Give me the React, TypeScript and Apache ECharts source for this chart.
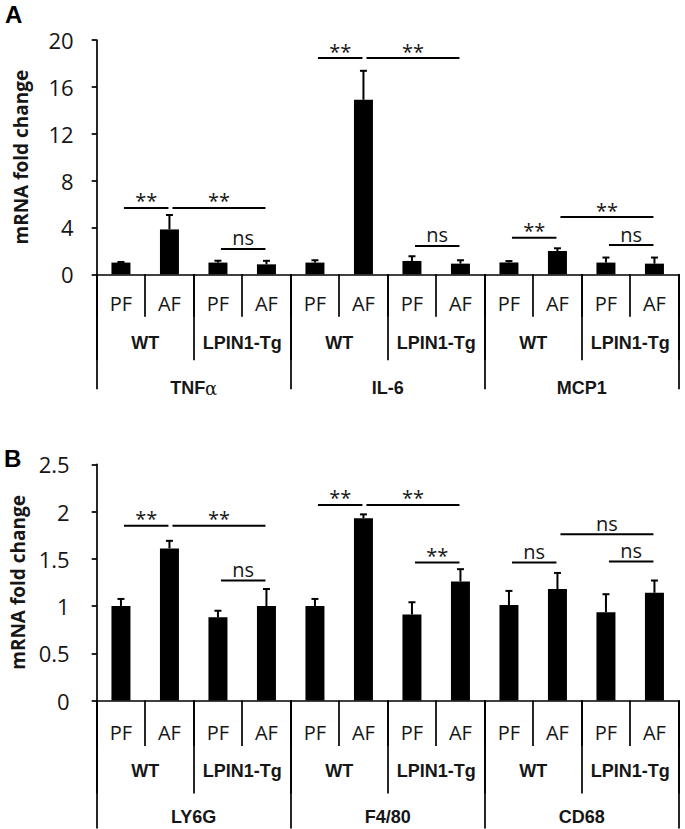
import React, { useEffect, useRef } from 'react';
import * as echarts from 'echarts';

// ---- data ----
const conditions = ['PF', 'AF', 'PF', 'AF', 'PF', 'AF', 'PF', 'AF', 'PF', 'AF', 'PF', 'AF'];
const genotypes = ['WT', 'LPIN1-Tg', 'WT', 'LPIN1-Tg', 'WT', 'LPIN1-Tg'];
const genesA = ['TNFα', 'IL-6', 'MCP1'];
const genesB = ['LY6G', 'F4/80', 'CD68'];

const meansA = [1.0, 3.83, 1.0, 0.85, 1.0, 14.9, 1.14, 0.91, 1.01, 1.99, 1.0, 0.91];
const errA = [0.05, 1.23, 0.16, 0.3, 0.2, 2.47, 0.4, 0.29, 0.12, 0.23, 0.43, 0.52];
const meansB = [1.0, 1.61, 0.88, 1.0, 1.0, 1.93, 0.91, 1.26, 1.01, 1.18, 0.935, 1.14];
const errB = [0.075, 0.08, 0.07, 0.18, 0.075, 0.04, 0.13, 0.13, 0.15, 0.17, 0.19, 0.13];

const yTicksA = [0, 4, 8, 12, 16, 20];
const yTicksB = [0, 0.5, 1, 1.5, 2, 2.5];

// significance brackets: [start bar, end bar, y value]
const bracketsA = [
  [0, 1, 5.66], [1, 3, 5.66], [2, 3, 2.16],
  [4, 5, 18.46], [5, 7, 18.46], [6, 7, 2.42],
  [8, 9, 3.12], [9, 11, 4.89], [10, 11, 2.5],
];
const bracketLabelsA = ['**', '**', 'ns', '**', '**', 'ns', '**', '**', 'ns'];
const bracketsB = [
  [0, 1, 1.85], [1, 3, 1.85], [2, 3, 1.27],
  [4, 5, 2.07], [5, 7, 2.07], [6, 7, 1.46],
  [8, 9, 1.46], [9, 11, 1.76], [10, 11, 1.47],
];
const bracketLabelsB = ['**', '**', 'ns', '**', '**', '**', 'ns', 'ns', 'ns'];

const TXT = '#161616';
const SANS = '"Open Sans", "Noto Sans", sans-serif';
const BOLD = '"Liberation Sans", Arial, sans-serif';

function makeXAxes(gridIndex: number, genes: string[], geo: any) {
  const line = { color: '#000', width: 1.7 };
  return [
    {
      type: 'category', gridIndex, position: 'bottom', data: conditions,
      axisLine: { show: true, onZero: false, lineStyle: line },
      axisTick: { show: true, interval: 0, length: geo.t1, lineStyle: line },
      axisLabel: {
        interval: 0, margin: geo.m1, verticalAlign: 'middle',
        fontFamily: SANS, fontSize: 20, color: TXT,
      },
    },
    {
      type: 'category', gridIndex, position: 'bottom', data: genotypes,
      axisLine: { show: false, onZero: false },
      axisTick: { show: true, interval: 0, length: geo.t2, lineStyle: line },
      axisLabel: {
        interval: 0, margin: geo.m2, verticalAlign: 'middle',
        fontFamily: BOLD, fontWeight: 'bold', fontSize: 18, color: TXT,
      },
    },
    {
      type: 'category', gridIndex, position: 'bottom', data: genes,
      axisLine: { show: false, onZero: false },
      axisTick: { show: true, interval: 0, length: geo.t3, lineStyle: line },
      axisLabel: {
        interval: 0, margin: geo.m3, verticalAlign: 'middle',
        fontFamily: BOLD, fontWeight: 'bold', fontSize: 18, color: TXT,
        formatter: (v: string) => v.replace('α', '{g|α}'),
        rich: { g: { fontFamily: '"DejaVu Serif", serif', fontWeight: 'normal', fontSize: 18, color: TXT } },
      },
    },
  ];
}

function makeYAxis(gridIndex: number, ticks: number[], margin: number) {
  const line = { color: '#000', width: 1.7 };
  return {
    type: 'value', gridIndex,
    min: ticks[0], max: ticks[ticks.length - 1], interval: ticks[1] - ticks[0],
    name: 'mRNA fold change', nameLocation: 'middle', nameGap: 66, nameRotate: 90,
    nameTextStyle: { fontFamily: SANS, fontWeight: 'bold', fontSize: 19, color: TXT },
    axisLine: { show: true, lineStyle: line },
    axisTick: { show: true, length: 5, lineStyle: line },
    splitLine: { show: false },
    axisLabel: { margin, fontFamily: SANS, fontSize: 22, color: TXT },
  };
}

function barSeries(xi: number, yi: number, means: number[], errs: number[], brackets: number[][], labels: string[]) {
  return [
    {
      type: 'bar', xAxisIndex: xi, yAxisIndex: yi, data: means,
      barWidth: 19, itemStyle: { color: '#000' }, silent: true,
    },
    {
      type: 'custom', xAxisIndex: xi, yAxisIndex: yi,
      data: means.map((m, i) => [i, m, m + errs[i]]),
      encode: { x: 0, y: [1, 2] },
      renderItem: (params: any, api: any) => {
        const i = api.value(0);
        const p0 = api.coord([i, api.value(1)]);
        const p1 = api.coord([i, api.value(2)]);
        return {
          type: 'group',
          children: [
            { type: 'line', shape: { x1: p0[0], y1: p0[1], x2: p1[0], y2: p1[1] }, style: { stroke: '#000', lineWidth: 2 } },
            { type: 'line', shape: { x1: p1[0] - 3.5, y1: p1[1], x2: p1[0] + 3.5, y2: p1[1] }, style: { stroke: '#000', lineWidth: 2 } },
          ],
        };
      },
    },
    {
      type: 'custom', xAxisIndex: xi, yAxisIndex: yi, clip: false,
      data: brackets,
      encode: { x: [0, 1], y: 2 },
      renderItem: (params: any, api: any) => {
        const v = api.value(2);
        const a = api.coord([api.value(0), v]);
        const b = api.coord([api.value(1), v]);
        const x1 = a[0] + 3;
        const x2 = b[0] - 1;
        const y = a[1];
        const lab = labels[params.dataIndex];
        return {
          type: 'group',
          children: [
            { type: 'line', shape: { x1, y1: y, x2, y2: y }, style: { stroke: '#000', lineWidth: 2 } },
            {
              type: 'text', x: (x1 + x2) / 2, y: y - (lab === '**' ? 7 : 11),
              style: { text: lab, align: 'center', verticalAlign: 'middle', fontFamily: SANS, fontSize: 20, fill: TXT },
            },
          ],
        };
      },
    },
  ];
}

export default function App() {
  const ref = useRef<HTMLDivElement>(null);
  useEffect(() => {
    document.body.style.margin = '0';
    const chart = echarts.init(ref.current as HTMLDivElement, null, { renderer: 'svg' });
    const geoA = { t1: 42.5, t2: 86, t3: 115, m1: 29, m2: 69, m3: 114 };
    const geoB = { t1: 45.5, t2: 93, t3: 128, m1: 31.5, m2: 70, m3: 116.5 };
    chart.setOption({
      animation: false,
      backgroundColor: '#fff',
      grid: [
        { left: 96.7, top: 40, width: 582, height: 234.3 },
        { left: 96.7, top: 464.3, width: 582, height: 236.2 },
      ],
      xAxis: [...makeXAxes(0, genesA, geoA), ...makeXAxes(1, genesB, geoB)],
      yAxis: [makeYAxis(0, yTicksA, 23), makeYAxis(1, yTicksB, 27)],
      graphic: [
        { type: 'text', x: 5, y: 14.5, style: { text: 'A', fontFamily: BOLD, fontWeight: 'bold', fontSize: 24, fill: '#000', verticalAlign: 'middle' } },
        { type: 'text', x: 4, y: 458, style: { text: 'B', fontFamily: BOLD, fontWeight: 'bold', fontSize: 24, fill: '#000', verticalAlign: 'middle' } },
      ],
      series: [
        ...barSeries(0, 0, meansA, errA, bracketsA, bracketLabelsA),
        ...barSeries(3, 1, meansB, errB, bracketsB, bracketLabelsB),
      ],
    });
    return () => chart.dispose();
  }, []);
  return <div ref={ref} style={{ width: 685, height: 829 }} />;
}
